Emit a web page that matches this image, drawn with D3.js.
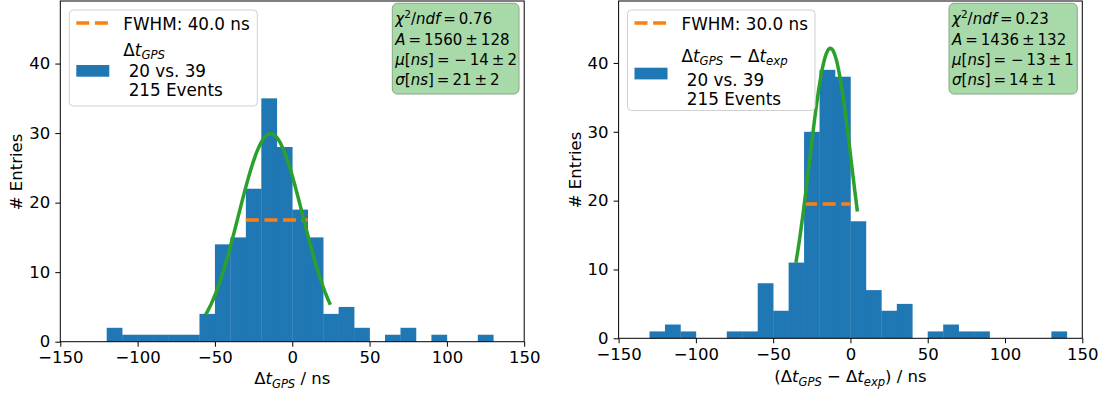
<!DOCTYPE html>
<html>
<head>
<meta charset="utf-8">
<script src="https://cdn.jsdelivr.net/npm/d3@7"></script>
<style>
  body { margin: 0; background: #fff; }
  svg { display: block; font-family: "DejaVu Sans", sans-serif; }
</style>
</head>
<body>
<svg></svg>
<script>
var svgWidth = 1100;
var svgHeight = 394;

var svg = d3.select('svg')
            .attr('width', svgWidth)
            .attr('height', svgHeight)
            .style('background', '#fff');

/* histogram data, bins 10 ns wide */
var binWidth = 10;
var leftBinStarts = [-120, -110, -100, -90, -80, -70, -60, -50, -40, -30, -20, -10, 0, 10, 20, 30, 40, 50, 60, 70, 80, 90, 100, 110, 120];
var leftCounts    = [2, 1, 1, 1, 1, 1, 4, 14, 15, 22, 35, 28, 19, 15, 4, 5, 2, 0, 1, 2, 0, 1, 0, 0, 1];
var rightBinStarts = [-130, -120, -110, -100, -90, -80, -70, -60, -50, -40, -30, -20, -10, 0, 10, 20, 30, 40, 50, 60, 70, 80, 90, 100, 110, 120, 130];
var rightCounts    = [1, 2, 1, 0, 0, 1, 1, 8, 4, 11, 30, 39, 38, 17, 7, 4, 5, 0, 1, 2, 1, 1, 0, 0, 0, 0, 1];

/* gaussian fit: A, mu, sigma, drawn range */
var leftFit = [1560, -14, 20.8, -56, 24.7];
var rightFit = [1436, -13, 13.6, -35.3, 4.5];

/* FWHM line: x from, x to, height */
var leftFwhm = [-30, 10, 17.5];
var rightFwhm = [-30, 0, 19.5];

var xTicks = [-150, -100, -50, 0, 50, 100, 150];
var yTicks = [0, 10, 20, 30, 40];

var leftLegend = ['FWHM: 40.0 ns', ' 20 vs. 39', ' 215 Events'];
var rightLegend = ['FWHM: 30.0 ns', ' 20 vs. 39', ' 215 Events'];
var leftStats = ['0.76', '1560\u2009±\u2009128', ' −\u200914\u2009±\u20092', '21\u2009±\u20092'];
var rightStats = ['0.23', '1436\u2009±\u2009132', ' −\u200913\u2009±\u20091', '14\u2009±\u20091'];

var barColor = '#1f77b4';
var fitColor = '#2ca02c';
var fwhmColor = '#ff7f0e';
var fs = 16.5;

/* write text made of pieces: [string, style] with style i / sub / sup */
function richText(g, x, y, parts, size){
    var t = g.append('text').attr('x', x).attr('y', y).style('font-size', size + 'px').attr('fill', '#000');
    var shift = 0;
    parts.forEach(p => {
        var target = 0, s = size;
        if(p[1] === 'sub'){ target = size * 0.22; s = size * 0.7; }
        if(p[1] === 'sup'){ target = -size * 0.42; s = size * 0.7; }
        var ts = t.append('tspan').text(p[0]).attr('dy', target - shift).style('font-size', s + 'px');
        if(p[1] === 'i' || p[1] === 'sub') ts.style('font-style', 'italic');
        shift = target;
    });
    return t;
}

function drawPanel(opt){
    var x = d3.scaleLinear().domain([-150, 150]).range([opt.left, opt.right]);
    var y = d3.scaleLinear().domain([0, 49]).range([opt.bottom, opt.top]);
    var g = svg.append('g');

    var bins = opt.starts.map((s, i) => ({x0: s, x1: s + binWidth, n: opt.counts[i]})).filter(d => d.n > 0);
    g.selectAll('rect.bar')
        .data(bins)
        .enter()
        .append('rect')
        .attr('class', 'bar')
        .attr('x', d => x(d.x0))
        .attr('width', d => x(d.x1) - x(d.x0) + 0.3)
        .attr('y', d => y(d.n))
        .attr('height', d => y(0) - y(d.n))
        .style('fill', barColor);

    // FWHM dashed line
    g.append('line')
        .attr('x1', x(opt.fwhm[0])).attr('x2', x(opt.fwhm[1]))
        .attr('y1', y(opt.fwhm[2])).attr('y2', y(opt.fwhm[2]))
        .attr('stroke', fwhmColor).attr('stroke-width', 3.5)
        .attr('stroke-dasharray', '13,5.6');

    // gaussian fit curve
    var f = opt.fit;
    var norm = f[0] / (f[2] * Math.sqrt(2 * Math.PI));
    var pts = d3.range(f[3], f[4] + 0.001, (f[4] - f[3]) / 120);
    pts[pts.length - 1] = f[4];
    var line = d3.line()
        .x(d => x(d))
        .y(d => y(norm * Math.exp(-(d - f[1]) * (d - f[1]) / (2 * f[2] * f[2]))));
    g.append('path')
        .attr('d', line(pts))
        .attr('fill', 'none')
        .attr('stroke', fitColor)
        .attr('stroke-width', 3.5);

    // axes
    var xAxis = d3.axisBottom(x).tickValues(xTicks).tickSize(5).tickPadding(5).tickSizeOuter(0);
    var yAxis = d3.axisLeft(y).tickValues(yTicks).tickSize(5).tickPadding(5).tickSizeOuter(0);
    var gx = g.append('g').attr('transform', `translate(0,${opt.bottom})`).call(xAxis);
    var gy = g.append('g').attr('transform', `translate(${opt.left},0)`).call(yAxis);
    [gx, gy].forEach(a => {
        a.select('.domain').remove();
        a.selectAll('text').style('font-size', fs + 'px').style('font-family', '"DejaVu Sans", sans-serif').attr('fill', '#000');
        a.selectAll('line').attr('stroke', '#000');
    });

    g.append('rect')
        .attr('x', opt.left).attr('y', opt.top)
        .attr('width', opt.right - opt.left).attr('height', opt.bottom - opt.top)
        .attr('fill', 'none').attr('stroke', '#000').attr('stroke-width', 1);

    // axis titles
    richText(g, (opt.left + opt.right) / 2, opt.xlabelY, opt.xlabel, fs).attr('text-anchor', 'middle');
    g.append('text')
        .attr('transform', `translate(${opt.ylabelX},${opt.ylabelY}) rotate(-90)`)
        .attr('text-anchor', 'middle')
        .style('font-size', fs + 'px')
        .text('# Entries');

    // legend
    var L = opt.legend;
    g.append('rect')
        .attr('x', L.x).attr('y', 10).attr('width', L.w).attr('height', L.h)
        .attr('rx', 4).attr('fill', '#fff').attr('fill-opacity', 0.8)
        .attr('stroke', '#d0d0d0').attr('stroke-width', 1);
    g.append('line')
        .attr('x1', L.x + 7).attr('x2', L.x + 40).attr('y1', 23).attr('y2', 23)
        .attr('stroke', fwhmColor).attr('stroke-width', 3.5).attr('stroke-dasharray', '13,5.6');
    g.append('text').attr('x', L.x + 54).attr('y', 29.5).style('font-size', '16.8px').text(opt.legendText[0]);
    g.append('rect')
        .attr('x', L.x + 7).attr('y', L.patchY).attr('width', 33).attr('height', 11.7)
        .attr('fill', barColor);
    richText(g, L.x + 54, L.lines[0], opt.legendLabel, 16.8);
    g.append('text').attr('x', L.x + 54).attr('y', L.lines[1]).style('font-size', '16.8px').style('white-space', 'pre').text(opt.legendText[1]);
    g.append('text').attr('x', L.x + 54).attr('y', L.lines[2]).style('font-size', '16.8px').style('white-space', 'pre').text(opt.legendText[2]);

    // fit statistics box
    var B = opt.box;
    g.append('rect')
        .attr('x', B.x).attr('y', 3.3).attr('width', B.w).attr('height', 90.7)
        .attr('rx', 5).attr('fill', '#a8d9a8')
        .attr('stroke', '#87a887').attr('stroke-width', 1);
    var st = opt.stats;
    var lines = [
        [['χ', 'i'], ['2', 'sup'], ['/'], ['ndf', 'i'], ['\u2009=\u2009' + st[0]]],
        [['A', 'i'], ['\u2009=\u2009' + st[1]]],
        [['μ', 'i'], ['['], ['ns', 'i'], [']\u2009=' + st[2]]],
        [['σ', 'i'], ['['], ['ns', 'i'], [']\u2009=\u2009' + st[3]]]
    ];
    var baselines = [24, 44.8, 64.5, 85];
    lines.forEach((l, i) => richText(g, B.x + 3, baselines[i], l, 15));
}

drawPanel({
    left: 60.3, right: 524.2, top: 1, bottom: 341.7,
    starts: leftBinStarts, counts: leftCounts, fit: leftFit, fwhm: leftFwhm,
    xlabel: [['Δ'], ['t', 'i'], ['GPS', 'sub'], [' / ns']], xlabelY: 384,
    ylabelX: 22.3, ylabelY: 172,
    legend: {x: 69.3, w: 188, h: 96, patchY: 65, lines: [55.5, 76.5, 96]},
    legendText: leftLegend,
    legendLabel: [['Δ'], ['t', 'i'], ['GPS', 'sub']],
    box: {x: 392.3, w: 126.7},
    stats: leftStats
});

drawPanel({
    left: 618.6, right: 1082.3, top: 1, bottom: 338.3,
    starts: rightBinStarts, counts: rightCounts, fit: rightFit, fwhm: rightFwhm,
    xlabel: [['('], ['Δ'], ['t', 'i'], ['GPS', 'sub'], [' − Δ'], ['t', 'i'], ['exp', 'sub'], [') / ns']], xlabelY: 382,
    ylabelX: 580.5, ylabelY: 170,
    legend: {x: 627.5, w: 187.5, h: 100.5, patchY: 67.7, lines: [61.5, 85.5, 105]},
    legendText: rightLegend,
    legendLabel: [['Δ'], ['t', 'i'], ['GPS', 'sub'], [' − Δ'], ['t', 'i'], ['exp', 'sub']],
    box: {x: 949, w: 128.3},
    stats: rightStats
});
</script>
</body>
</html>
